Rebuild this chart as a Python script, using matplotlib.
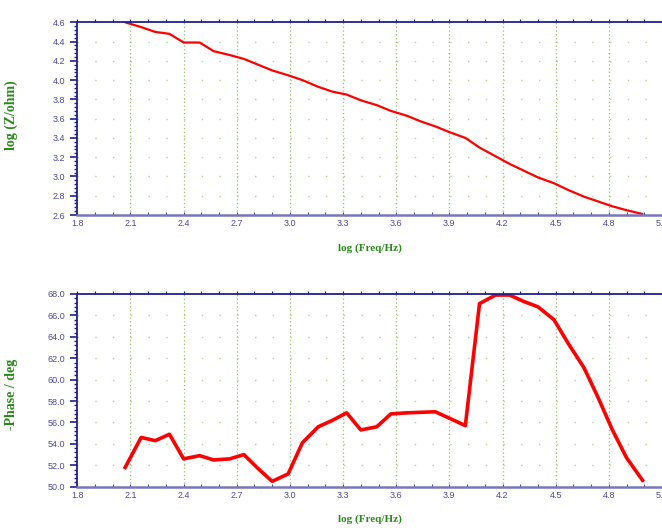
import numpy as np
import matplotlib
matplotlib.use('Agg')
import matplotlib.pyplot as plt
from matplotlib.ticker import FixedLocator, MultipleLocator

# log(Freq/Hz) at each measured point
log_freq = [2.07, 2.16, 2.24, 2.32, 2.40, 2.49, 2.57, 2.66, 2.74, 2.82, 2.90, 2.99,
            3.07, 3.16, 3.24, 3.32, 3.40, 3.49, 3.57, 3.66, 3.74, 3.82, 3.90, 3.99,
            4.07, 4.16, 4.24, 4.32, 4.40, 4.49, 4.57, 4.66, 4.74, 4.82, 4.90, 4.99]

# log(Z/ohm)
log_z = [4.60, 4.55, 4.50, 4.48, 4.39, 4.39, 4.30, 4.26, 4.22, 4.16, 4.10, 4.05,
         4.00, 3.93, 3.88, 3.85, 3.79, 3.74, 3.68, 3.63, 3.57, 3.52, 3.46, 3.40,
         3.30, 3.21, 3.13, 3.06, 2.99, 2.93, 2.86, 2.79, 2.74, 2.69, 2.65, 2.61]

# -phase in degrees
phase = [51.8, 54.6, 54.3, 54.9, 52.6, 52.9, 52.5, 52.6, 53.0, 51.7, 50.5, 51.2,
         54.1, 55.6, 56.2, 56.9, 55.3, 55.6, 56.8, 56.9, 56.95, 57.0, 56.4, 55.7,
         67.1, 67.9, 67.9, 67.3, 66.8, 65.6, 63.4, 61.1, 58.3, 55.3, 52.7, 50.6]

x_ticks = [1.8, 2.1, 2.4, 2.7, 3.0, 3.3, 3.6, 3.9, 4.2, 4.5, 4.8, 5.1]
z_ticks = [2.6, 2.8, 3.0, 3.2, 3.4, 3.6, 3.8, 4.0, 4.2, 4.4, 4.6]
phase_ticks = [50.0, 52.0, 54.0, 56.0, 58.0, 60.0, 62.0, 64.0, 66.0, 68.0]

navy = '#1f1f8f'
tick_col = '#4a4aa4'
green = '#2a8a1a'
grid_green = '#9cc070'

fig = plt.figure(figsize=(6.62, 5.28), dpi=100)


def style_axes(ax, yticks, ystep, ylabel, ylabel_y):
    ax.set_xlim(x_ticks[0], x_ticks[-1])
    ax.set_ylim(yticks[0], yticks[-1])
    ax.spines['right'].set_visible(False)
    ax.spines['top'].set_color(navy)
    ax.spines['top'].set_linewidth(1.3)
    ax.spines['left'].set_color(navy)
    ax.spines['left'].set_linewidth(1.3)
    ax.spines['bottom'].set_color('#7878b8')
    ax.spines['bottom'].set_linewidth(1.8)

    ax.xaxis.set_major_locator(FixedLocator(x_ticks))
    ax.set_xticklabels(['%.1f' % v for v in x_ticks])
    ax.xaxis.set_minor_locator(MultipleLocator(0.1))
    ax.yaxis.set_major_locator(FixedLocator(yticks))
    ax.set_yticklabels(['%.1f' % v for v in yticks])
    ax.yaxis.set_minor_locator(MultipleLocator(ystep / 5))

    ax.tick_params(axis='x', which='major', direction='in', length=2.5, width=0.8,
                   color=tick_col, labelcolor=tick_col, labelsize=6.5, pad=3)
    ax.tick_params(axis='x', which='minor', direction='in', length=2.5, width=0.8,
                   color=tick_col)
    ax.tick_params(axis='y', which='major', direction='out', length=5, width=1.2,
                   color=navy, labelcolor=tick_col, labelsize=6.5, pad=3.5)
    ax.tick_params(axis='y', which='minor', direction='out', length=2.5, width=1.0,
                   color=navy)
    for lab in ax.get_xticklabels() + ax.get_yticklabels():
        lab.set_family('Liberation Sans')

    top = ax.secondary_xaxis('top')
    top.xaxis.set_major_locator(MultipleLocator(0.1))
    top.set_xticklabels([])
    top.tick_params(direction='out', length=2.5, width=0.8, color=navy)
    top.spines['top'].set_visible(False)

    # vertical dotted grid lines at the labelled frequencies
    for v in x_ticks[1:-1]:
        ax.axvline(v, color=grid_green, lw=0.9, ls=(0, (1, 2)), zorder=0)
    # sparse dots along the labelled y values
    for v in yticks[1:-1]:
        ax.axhline(v, color='#b8d49a', lw=1.0, ls=(0, (1, 11.78)), zorder=0)

    ax.set_xlabel('log (Freq/Hz)', family='Liberation Serif', fontweight='bold',
                  fontsize=8, color=green)
    ax.xaxis.set_label_coords(0.5, -0.145)
    ax.set_ylabel(ylabel, family='Liberation Serif', fontweight='bold',
                  fontsize=10, color=green)
    ax.yaxis.set_label_coords(-0.101, ylabel_y)


ax1 = fig.add_axes([0.1168, 0.5928, 0.8832, 0.365])
ax1.plot(log_freq, log_z, color='#ff0000', lw=1.6, solid_capstyle='round')
style_axes(ax1, z_ticks, 0.2, 'log (Z/ohm)', 0.516)

ax2 = fig.add_axes([0.1168, 0.0782, 0.8832, 0.365])
ax2.plot(log_freq, phase, color='#ff0000', lw=2.6, solid_joinstyle='round')
style_axes(ax2, phase_ticks, 2.0, '-Phase / deg', 0.48)

fig.savefig('out.png', dpi=100)
